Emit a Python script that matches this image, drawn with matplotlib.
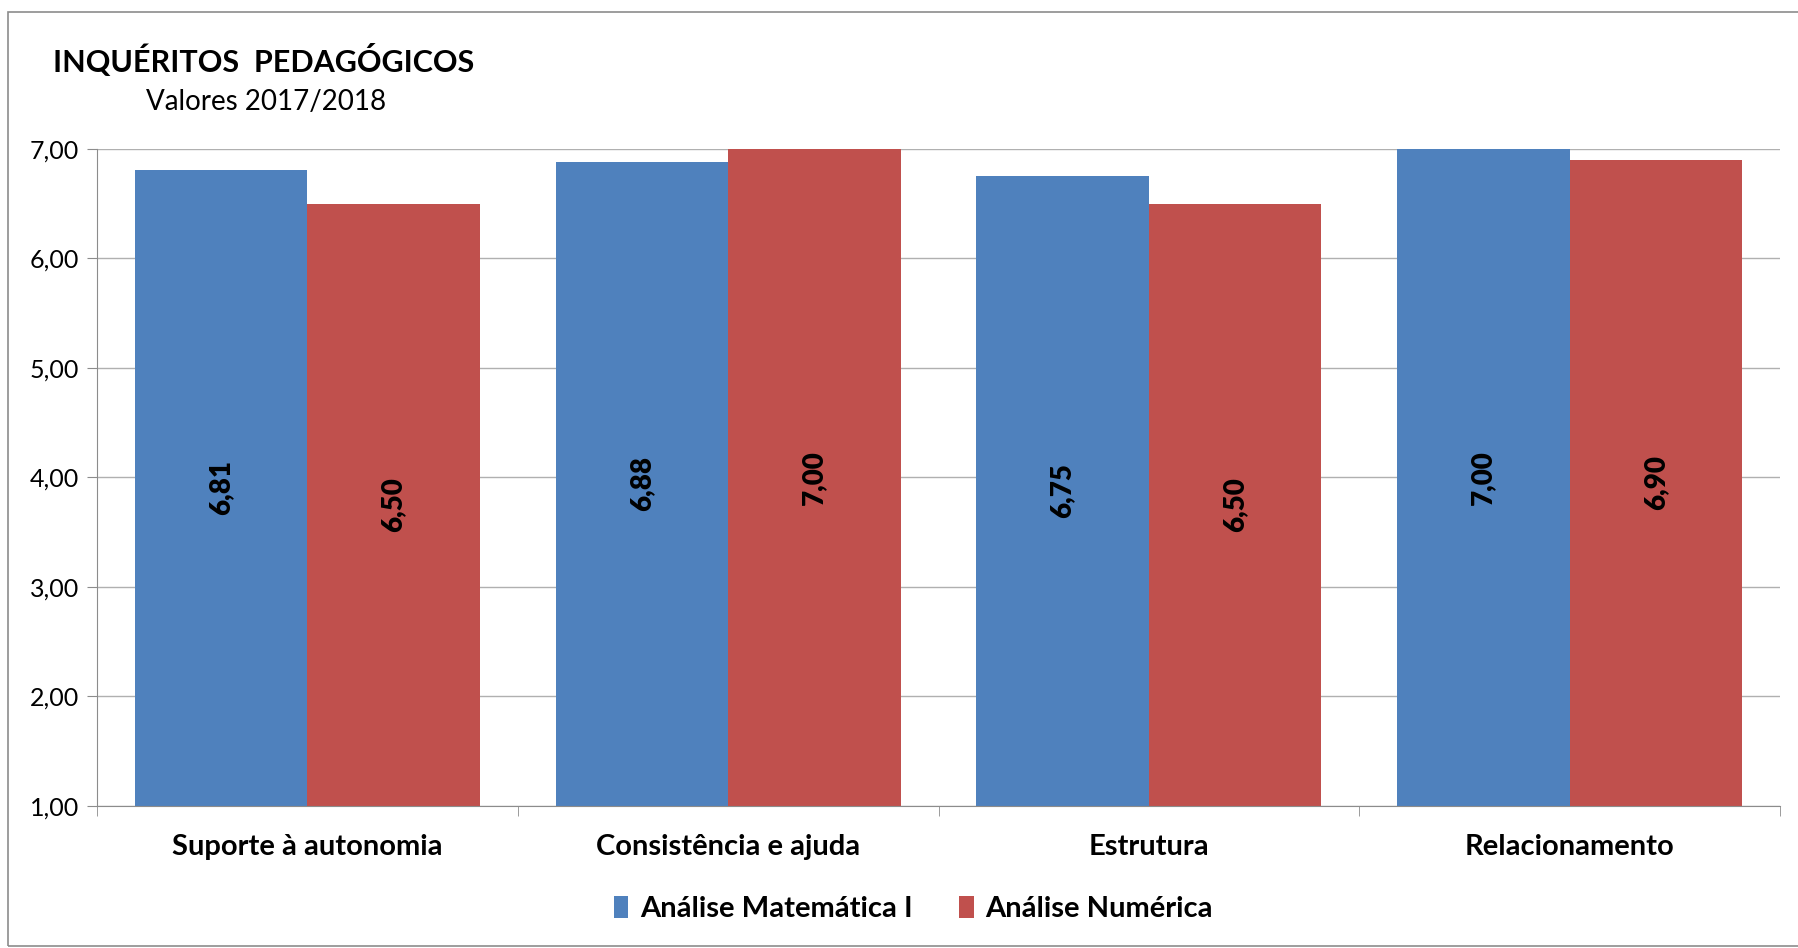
import matplotlib.pyplot as plt
from matplotlib.patches import Rectangle
import numpy as np

plt.rcParams['font.family'] = ['Lato', 'DejaVu Sans']

categorias = ['Suporte à autonomia', 'Consistência e ajuda', 'Estrutura', 'Relacionamento']
series = ['Análise Matemática I', 'Análise Numérica']
mat1 = [6.81, 6.88, 6.75, 7.00]
numerica = [6.50, 7.00, 6.50, 6.90]
cores = ['#4F81BD', '#C0504D']
yticks = [1, 2, 3, 4, 5, 6, 7]

fig = plt.figure(figsize=(17.98, 9.48), dpi=100)
ax = fig.add_axes([0.054, 0.150, 0.936, 0.693])

# moldura exterior do gráfico
fig.patches.append(Rectangle((8 / 1798, 2 / 948), 1.2, 1 - 14 / 948,
                             transform=fig.transFigure, fill=False,
                             edgecolor='#8c8c8c', linewidth=1.2))

x = np.arange(len(categorias))
w = 0.41
for i, (vals, nome) in enumerate([(mat1, series[0]), (numerica, series[1])]):
    pos = x + (i - 0.5) * w
    ax.bar(pos, np.array(vals) - 1, width=w, bottom=1, color=cores[i],
           label=nome, zorder=2)
    for p, v in zip(pos, vals):
        ax.text(p, (1 + v) / 2, f'{v:.2f}'.replace('.', ','), rotation=90,
                ha='center', va='center', fontsize=20, fontweight='heavy',
                color='black', zorder=3)

ax.set_xlim(-0.5, len(categorias) - 0.5)
ax.set_ylim(1, 7)
ax.set_yticks(yticks)
ax.set_yticklabels([f'{t:.2f}'.replace('.', ',') for t in yticks], fontsize=18)
ax.yaxis.grid(True, color='#b0b0b0', linewidth=1, zorder=0)

ax.set_xticks(x)
ax.set_xticklabels(categorias, fontsize=21, fontweight='bold')
ax.set_xticks(np.arange(len(categorias) + 1) - 0.5, minor=True)
ax.tick_params(axis='x', which='major', length=0, pad=20)
ax.tick_params(axis='x', which='minor', length=7, color='#8c8c8c')
ax.tick_params(axis='y', length=7, color='#8c8c8c', pad=6)

for s in ['top', 'right']:
    ax.spines[s].set_visible(False)
for s in ['left', 'bottom']:
    ax.spines[s].set_color('#8c8c8c')

fig.text(53 / 1798, 1 - 60 / 948, 'INQUÉRITOS  PEDAGÓGICOS', fontsize=22,
         fontweight='bold', va='center', ha='left')
fig.text(146 / 1798, 1 - 102 / 948, 'Valores 2017/2018', fontsize=20,
         va='center', ha='left')

fig.legend(loc='center', bbox_to_anchor=(0.508, 1 - 909 / 948), ncol=2,
           frameon=False, handlelength=0.5, handleheight=0.8,
           handletextpad=0.4, columnspacing=1.6,
           prop={'weight': 'bold', 'size': 21})

fig.savefig('out.png', dpi=100)
